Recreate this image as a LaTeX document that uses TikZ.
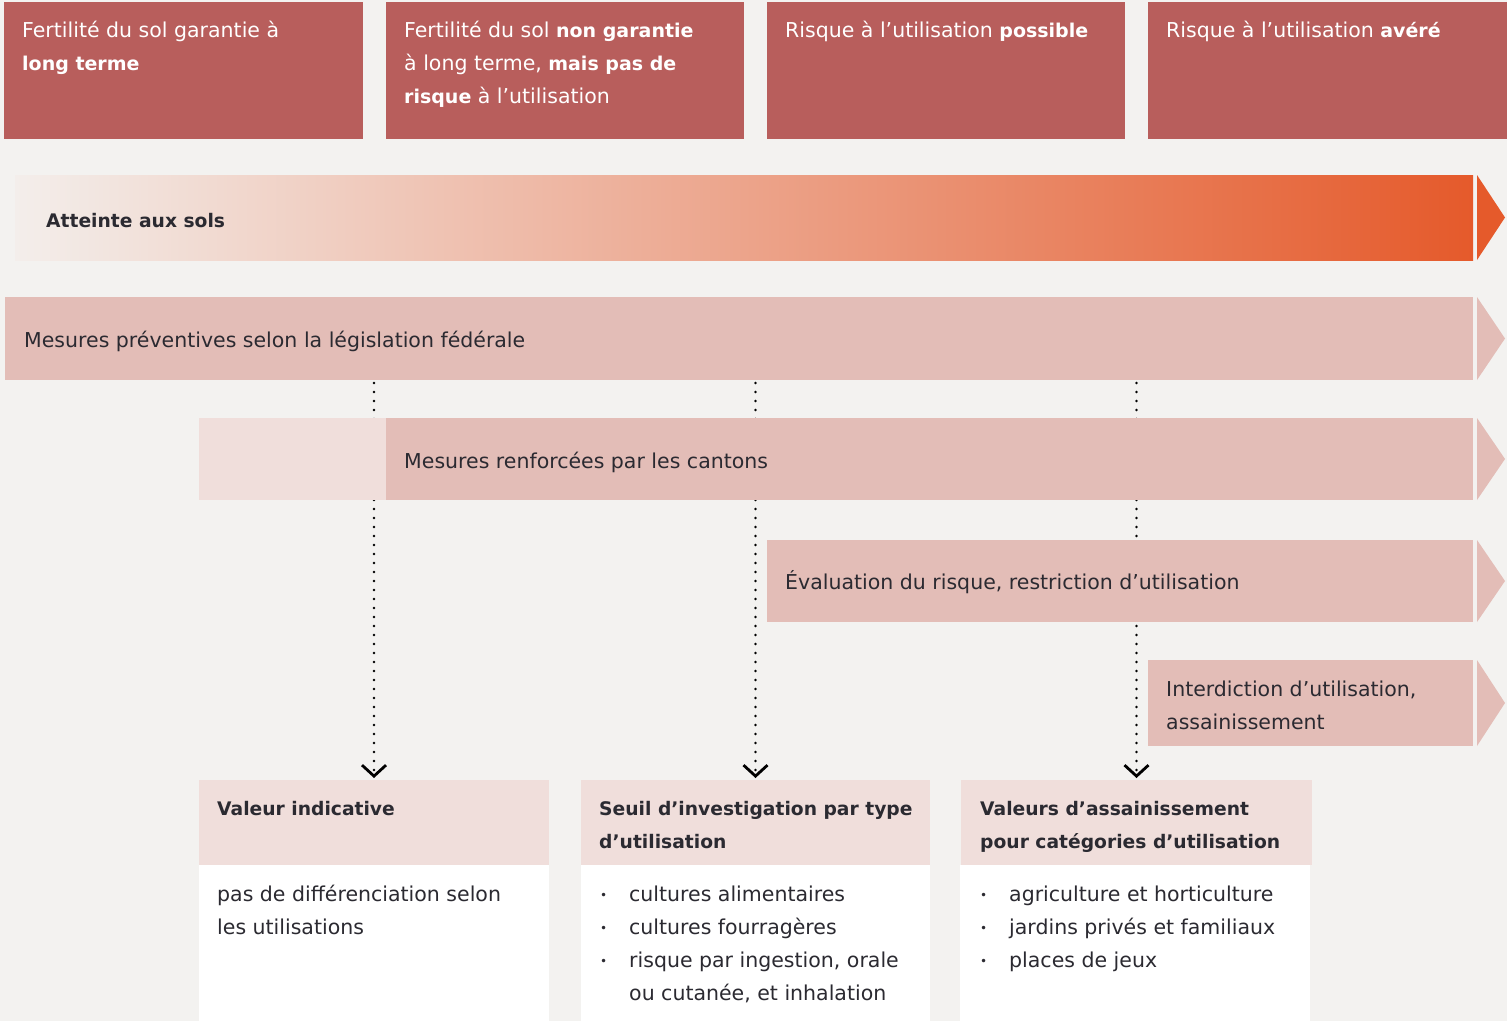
\documentclass[tikz,border=0pt]{standalone}
\usepackage{fontspec}
\setmainfont{DejaVu Sans}
\usetikzlibrary{arrows.meta}
\definecolor{bgc}{HTML}{F3F2F0}
\definecolor{hdr}{HTML}{B85E5C}
\definecolor{pinkc}{HTML}{E3BDB7}
\definecolor{lpink}{HTML}{F0DEDB}
\definecolor{orangec}{HTML}{E55A2B}
\definecolor{gradl}{HTML}{F3EEEB}
\definecolor{txtc}{HTML}{2B2A31}
\pgfdeclarelayer{back}
\pgfsetlayers{back,main}
\newcommand{\fs}{\fontsize{20.5}{33}\selectfont}
\newcommand{\fsb}{\fontsize{18.7}{33}\selectfont\bfseries}
\newcommand{\hb}[1]{{\fontsize{19}{33}\selectfont\bfseries #1}}
\newcommand{\myitem}[1]{\makebox[30pt][l]{\hspace{1pt}\raisebox{1.5pt}{\fontsize{12}{12}\selectfont •}}#1}
\begin{document}
\begin{tikzpicture}[x=1pt,y=-1pt,
  box/.style={inner sep=0pt, outer sep=0pt, anchor=north west, draw=none},
  lbl/.style={inner sep=0pt, anchor=base west, align=left, text=txtc, font=\fs},
  hlbl/.style={lbl, text=white},
  blbl/.style={lbl, font=\fsb},
  conn/.style={line width=2.6pt, dash pattern=on 0pt off 9pt, line cap=round,
    -{Straight Barb[length=11pt,width=24pt,line width=2.8pt]}, shorten >=2pt}
]
\useasboundingbox (0,0) rectangle (1507,1021);
\begin{pgfonlayer}{back}
\fill[bgc] (0,0) rectangle (1507,1021);
\end{pgfonlayer}

% header boxes (multi-line labels are anchored at the baseline of their last line)
\node[box, fill=hdr, minimum width=359pt, minimum height=137pt] (h1) at (4,2) {};
\node[box, fill=hdr, minimum width=358pt, minimum height=137pt] (h2) at (386,2) {};
\node[box, fill=hdr, minimum width=358pt, minimum height=137pt] (h3) at (767,2) {};
\node[box, fill=hdr, minimum width=359pt, minimum height=137pt] (h4) at (1148,2) {};
\node[hlbl] (t1) at (22,70) {Fertilité du sol garantie à\\\hb{long terme}};
\node[hlbl] (t2) at (404,103) {Fertilité du sol \hb{non garantie}\\à long terme, \hb{mais pas de}\\\hb{risque} à l’utilisation};
\node[hlbl] (t3) at (785,37) {Risque à l’utilisation \hb{possible}};
\node[hlbl] (t4) at (1166,37) {Risque à l’utilisation \hb{avéré}};

% gradient bar
\node[box, minimum width=1458pt, minimum height=85pt] (att) at (15,175) {};
\shade[left color=gradl, right color=orangec] (att.north west) rectangle (att.south east);
\fill[orangec] ([xshift=4pt]att.north east) -- ([xshift=32pt]att.east) -- ([xshift=4pt]att.south east) -- cycle;
\node[blbl] (attl) at (46,227) {Atteinte aux sols};

% measure bars
\node[box, fill=pinkc, minimum width=1468pt, minimum height=83pt] (mp) at (5,297) {};
\fill[pinkc] ([xshift=4pt]mp.north east) -- ([xshift=32pt]mp.east) -- ([xshift=4pt]mp.south east) -- cycle;
\node[lbl] (mpl) at (24,347) {Mesures préventives selon la législation fédérale};

\node[box, fill=lpink, minimum width=187pt, minimum height=82pt] (mrl) at (199,418) {};
\node[box, fill=pinkc, minimum width=1087pt, minimum height=82pt] (mr) at (386,418) {};
\fill[pinkc] ([xshift=4pt]mr.north east) -- ([xshift=32pt]mr.east) -- ([xshift=4pt]mr.south east) -- cycle;
\node[lbl] (mrt) at (404,468) {Mesures renforcées par les cantons};

\node[box, fill=pinkc, minimum width=706pt, minimum height=82pt] (ev) at (767,540) {};
\fill[pinkc] ([xshift=4pt]ev.north east) -- ([xshift=32pt]ev.east) -- ([xshift=4pt]ev.south east) -- cycle;
\node[lbl] (evt) at (785,589) {Évaluation du risque, restriction d’utilisation};

\node[box, fill=pinkc, minimum width=325pt, minimum height=86pt] (in) at (1148,660) {};
\fill[pinkc] ([xshift=4pt]in.north east) -- ([xshift=32pt]in.east) -- ([xshift=4pt]in.south east) -- cycle;
\node[lbl] (int) at (1166,729) {Interdiction d’utilisation,\\assainissement};

% bottom boxes
\node[box, fill=lpink, minimum width=350pt, minimum height=85pt] (vi) at (199,780) {};
\node[box, fill=white, minimum width=350pt, minimum height=157pt] (vib) at (199,865) {};
\node[blbl] (vit) at (217,815) {Valeur indicative};
\node[lbl] (vibt) at (217,934) {pas de différenciation selon\\les utilisations};

\node[box, fill=lpink, minimum width=349pt, minimum height=85pt] (si) at (581,780) {};
\node[box, fill=white, minimum width=349pt, minimum height=157pt] (sib) at (581,865) {};
\node[blbl] (sit) at (599,848) {Seuil d’investigation par type\\d’utilisation};
\node[lbl] (sibt) at (599,1000) {\myitem{cultures alimentaires}\\\myitem{cultures fourragères}\\\myitem{risque par ingestion, orale}\\\hspace*{30pt}ou cutanée, et inhalation};

\node[box, fill=lpink, minimum width=351pt, minimum height=85pt] (va) at (961,780) {};
\node[box, fill=white, minimum width=350pt, minimum height=157pt] (vab) at (960,865) {};
\node[blbl] (vat) at (980,848) {Valeurs d’assainissement\\pour catégories d’utilisation};
\node[lbl] (vabt) at (979,967) {\myitem{agriculture et horticulture}\\\myitem{jardins privés et familiaux}\\\myitem{places de jeux}};

% connectors
\begin{pgfonlayer}{back}
\draw[conn] ([yshift=-3pt]vi.north |- mp.south) -- (vi.north);
\draw[conn] ([yshift=-3pt]si.north |- mp.south) -- (si.north);
\draw[conn] ([yshift=-3pt]va.north |- mp.south) -- (va.north);
\end{pgfonlayer}
\end{tikzpicture}
\end{document}
